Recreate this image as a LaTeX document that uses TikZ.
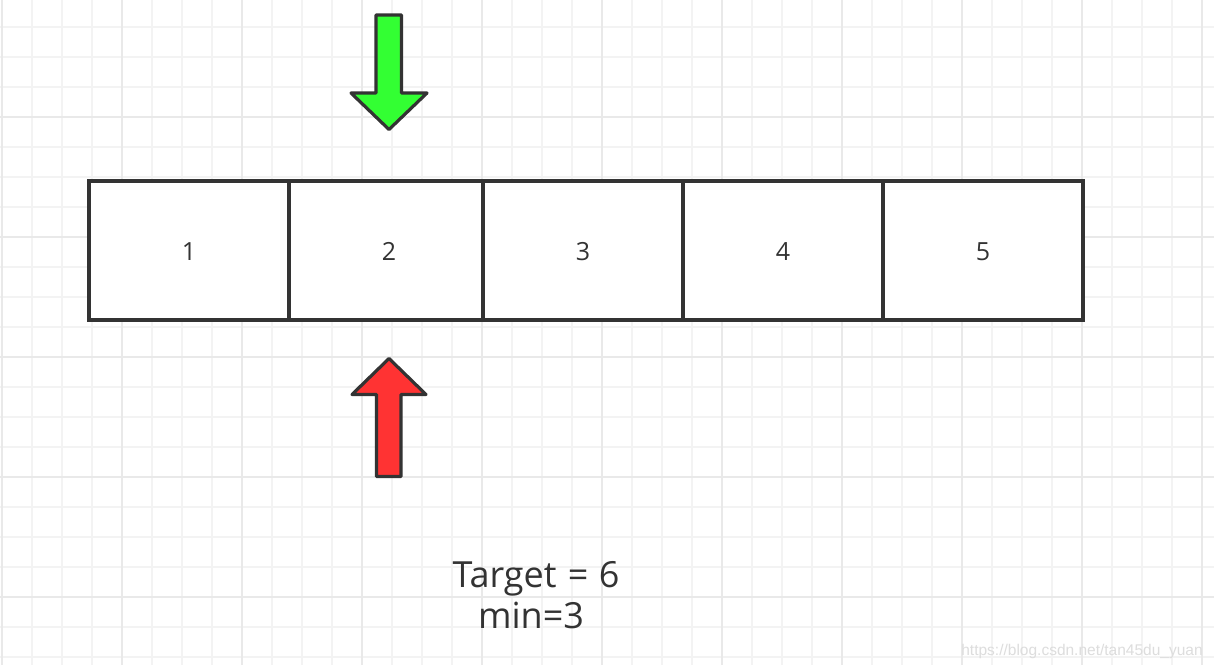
\documentclass[tikz,border=0pt]{standalone}
\usepackage{fontspec}
\setmainfont{Open Sans}
\newfontfamily\wmfont{Liberation Sans}
\definecolor{ink}{HTML}{333333}
\definecolor{gridminor}{HTML}{F3F3F3}
\definecolor{gridmajor}{HTML}{E9E9E9}
\definecolor{agreen}{HTML}{33FF33}
\definecolor{ared}{HTML}{FF3333}
\definecolor{wm}{HTML}{DDDDDD}
\tikzset{
  cellbox/.style={draw=ink, line width=3.2pt, fill=white, minimum height=139pt, inner sep=0pt, outer sep=0pt},
  numtxt/.style={text=ink, font=\fontsize{25}{25}\selectfont, inner sep=0pt, anchor=base},
  arrowshape/.style={draw=ink, line width=3.2pt, line join=round},
  bigtxt/.style={text=ink, font=\fontsize{36}{36}\selectfont, inner sep=0pt, anchor=base},
}
\begin{document}
\begin{tikzpicture}[x=1pt,y=-1pt]
\useasboundingbox (0,0) rectangle (1214,665);
\fill[white] (0,0) rectangle (1214,665);
% grid
\foreach \i in {0,...,40} {\draw[gridminor, line width=1.6pt] (2+30*\i,0) -- (2+30*\i,665);}
\foreach \i in {0,...,22} {\draw[gridminor, line width=1.6pt] (0,-3+30*\i) -- (1214,-3+30*\i);}
\foreach \i in {0,...,10} {\draw[gridmajor, line width=1.8pt] (2+120*\i,0) -- (2+120*\i,665);}
\foreach \i in {0,...,6} {\draw[gridmajor, line width=1.8pt] (0,-3+120*\i) -- (1214,-3+120*\i);}
% cells
\node[cellbox, minimum width=200pt] (c1) at (189,250.5) {};
\node[cellbox, minimum width=194pt] (c2) at (386,250.5) {};
\node[cellbox, minimum width=200pt] (c3) at (583,250.5) {};
\node[cellbox, minimum width=200pt] (c4) at (783,250.5) {};
\node[cellbox, minimum width=200pt] (c5) at (983,250.5) {};
\node[numtxt] (n1) at (189,260.5) {1};
\node[numtxt] (n2) at (389,260.5) {2};
\node[numtxt] (n3) at (583,260.5) {3};
\node[numtxt] (n4) at (783,260.5) {4};
\node[numtxt] (n5) at (983,260.5) {5};
% green arrow (down)
\draw[arrowshape, fill=agreen] (376,15) -- (401.5,15) -- (401.5,93) -- (427,93) -- (389,129.5) -- (351,93) -- (376,93) -- cycle;
% red arrow (up)
\draw[arrowshape, fill=ared] (389,358.5) -- (426,394.5) -- (401,394.5) -- (401,476.5) -- (376.5,476.5) -- (376.5,394.5) -- (352,394.5) -- cycle;
% texts
\node[bigtxt] (target) at (536,587) {Target\hspace{2pt} = \hspace{1pt}6};
\node[bigtxt] (minv) at (531,628) {min=3};
\node[text=wm, font=\wmfont\fontsize{15.5}{15.5}\selectfont, inner sep=0pt, anchor=base] (wmark) at (1082,655) {https://blog.csdn.net/tan45du\_yuan};
\end{tikzpicture}
\end{document}
